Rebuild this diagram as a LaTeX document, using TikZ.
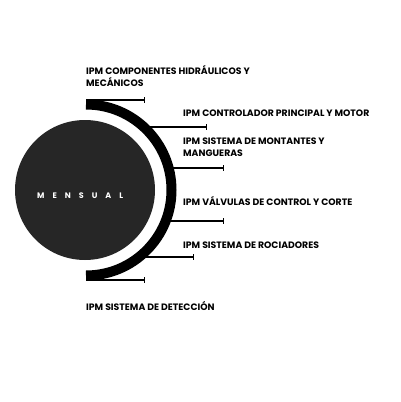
\documentclass[tikz,border=0pt]{standalone}
\usepackage{fontspec}
\setmainfont{Poppins}
\usetikzlibrary{arrows.meta}
\tikzset{
  itemlabel/.style={anchor=base west, inner sep=0pt, align=left,
    font=\bfseries\fontsize{9.3}{11.5}\selectfont},
  itemline/.style={line width=1.2pt, -{Bar[width=6pt,line width=1.2pt]}}
}
\begin{document}
\begin{tikzpicture}[x=1pt,y=-1pt]
  \useasboundingbox (0,0) rectangle (400,402);
  % disc and ring
  \fill [black!85] (85,190) circle [radius=70];
  \draw [line width=10pt] (86,104.5) arc [start angle=-90, end angle=90, radius=85.5];
  \node [anchor=base west, inner sep=0pt, text=white,
    font=\bfseries\fontsize{8}{9}\selectfont\addfontfeatures{LetterSpace=100}] (mensual) at (37,198) {MENSUAL};
  % start points on the ring
  \coordinate (s1) at (86,100);
  \coordinate (s2) at (143,127);
  \coordinate (s3) at (167,168);
  \coordinate (s4) at (165,221);
  \coordinate (s5) at (138,257);
  \coordinate (s6) at (86,280);
  % end points
  \coordinate (e1) at (145,100);
  \coordinate (e2) at (207,127);
  \coordinate (e3) at (224,168);
  \coordinate (e4) at (224,221);
  \coordinate (e5) at (194,257);
  \coordinate (e6) at (145,280);
  \foreach \i in {1,...,6}
    \draw [itemline] (s\i) -- (e\i);
  % labels (multi-line ones sit on their last line)
  \node [itemlabel] (l1) at (86,86) {IPM COMPONENTES HIDRÁULICOS Y\\MECÁNICOS};
  \node [itemlabel] (l2) at (183,116) {IPM CONTROLADOR PRINCIPAL Y MOTOR};
  \node [itemlabel] (l3) at (183,156) {IPM SISTEMA DE MONTANTES Y\\MANGUERAS};
  \node [itemlabel] (l4) at (183,205) {IPM VÁLVULAS DE CONTROL Y CORTE};
  \node [itemlabel] (l5) at (183,248) {IPM SISTEMA DE ROCIADORES};
  \node [itemlabel] (l6) at (86,310) {IPM SISTEMA DE DETECCIÓN};
\end{tikzpicture}
\end{document}
